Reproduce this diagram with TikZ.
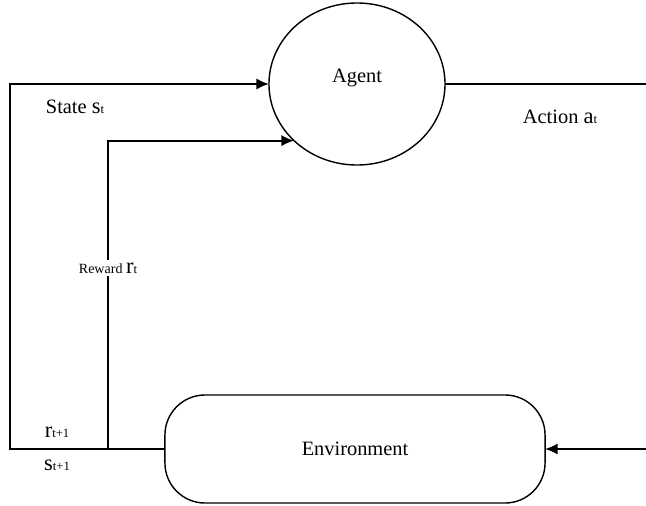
\documentclass[tikz,border=0pt]{standalone}
\usepackage{fontspec}
\setmainfont{Liberation Serif}
\usetikzlibrary{arrows.meta, shapes.geometric}
\tikzstyle{flowArrow} = [line width=1.3pt, -{Latex[length=9pt,width=8pt]}]
\tikzstyle{flowLine} = [line width=1.3pt]
\tikzstyle{bigText} = [font=\fontsize{14.5}{16}\selectfont, inner sep=1pt]
\newcommand{\var}[1]{{\fontsize{16}{17}\selectfont #1}}
\newcommand{\idx}[1]{{\fontsize{9}{10}\selectfont #1}}

\begin{document}
\begin{tikzpicture}[x=0.025cm,y=-0.025cm]
  \useasboundingbox (0,0) rectangle (646,506);

  \node[draw,ellipse,line width=1pt,outer sep=0pt,minimum width=4.4cm,minimum height=4.05cm,bigText] at (357,84)(agent){};
  \node[bigText] at (357,78)(agentText){Agent};
  \node[draw,rectangle,rounded corners=1cm,line width=1pt,outer sep=0pt,minimum width=9.5cm,minimum height=2.7cm,bigText] at (355,449)(env){Environment};

  \coordinate (leftCorner) at (10,449);
  \coordinate (rewardFoot) at (108,449);
  \coordinate (actionEnd) at (646,84);
  \coordinate (actionBack) at (646,449);

  \draw[flowArrow] (env.west) -- (leftCorner) |- (agent.west);
  \draw[flowArrow] (rewardFoot) |- (agent.222);
  \draw[flowLine] (agent.east) -- (actionEnd);
  \draw[flowArrow] (actionBack) -- (env.east);

  \node[bigText] at (75,107)(state){State \var{s}\idx{t}};
  \node[bigText] at (560,117)(action){Action \var{a}\idx{t}};
  \node[fill=white,inner sep=2pt,font=\fontsize{10}{12}\selectfont] at (108,268)(reward){Reward \var{r}\idx{t}};
  \node[bigText] at (57,432)(rNext){\var{r}\idx{t+1}};
  \node[bigText] at (57,465)(sNext){\var{s}\idx{t+1}};
\end{tikzpicture}
\end{document}
